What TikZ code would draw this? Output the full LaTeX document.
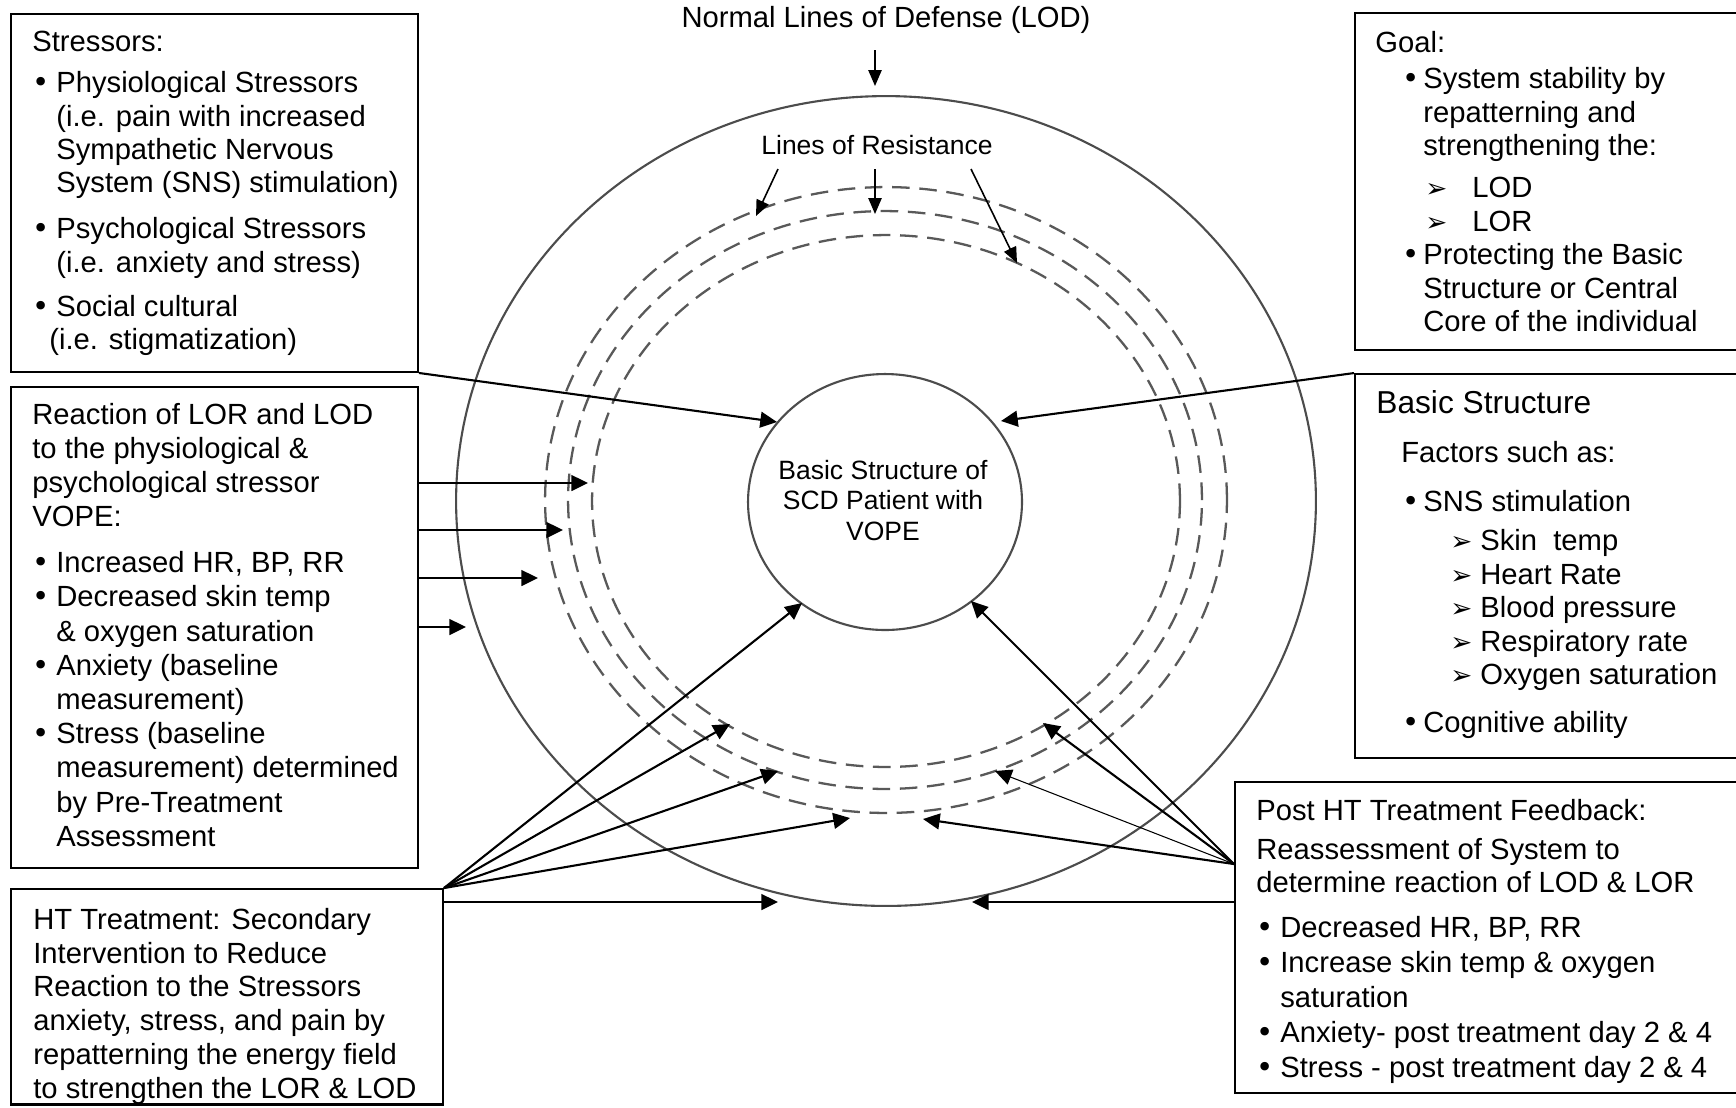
\documentclass[tikz,border=0pt]{standalone}
\usepackage{fontspec}
\setmainfont{Liberation Sans}
\newfontfamily\dejavufont{DejaVu Sans}
\usetikzlibrary{arrows.meta,fit,shapes.geometric}
\newdimen\PX \PX=0.02cm
\newcommand\bigbul{{\dejavufont\textbullet}}
\newcommand\bulx{\makebox[24\PX][l]{\bigbul}}
\newcommand\arrbul[1]{\makebox[#1][l]{\dejavufont\fontsize{15}{15}\selectfont ➢}}
\begin{document}
\begin{tikzpicture}[x=0.02cm,y=-0.02cm,
  box/.style={draw,fill=white,line width=1.1pt,inner sep=0pt},
  txt/.style={anchor=base west,inner sep=0pt},
  ring/.style={ellipse,draw=black!70,line width=1.2pt,inner sep=0pt},
  dring/.style={ellipse,draw=black!65,line width=1.3pt,inner sep=0pt,dash pattern=on 10pt off 5.5pt},
  con/.style={line width=1.2pt,-{Triangle[length=9.5pt,width=9pt]}},
  thincon/.style={line width=0.6pt,-{Triangle[length=9.5pt,width=9pt]}},
  lcon/.style={line width=0.9pt,-{Triangle[length=9pt,width=7.5pt]}}]
\useasboundingbox (0,0) rectangle (1736,1107);
\fill[white] (0,0) rectangle (1736,1107);
\clip (0,0) rectangle (1736,1107);

% ---- rings ----
\node[ring,minimum width=17.2cm,minimum height=16.2cm] (lod) at (886,501) {};
\node[dring,minimum width=13.64cm,minimum height=12.52cm] (lorA) at (886,500) {};
\node[dring,minimum width=12.68cm,minimum height=11.56cm] (lorB) at (885,500) {};
\node[dring,minimum width=11.76cm,minimum height=10.64cm] (lorC) at (886,501) {};
\node[ring,minimum width=5.48cm,minimum height=5.12cm] (core) at (885,502) {};
\node[anchor=base,inner sep=0pt,font=\fontsize{15.08}{17.36}\selectfont] (coreT) at (883,479)
  {\parbox[t]{260\PX}{\centering Basic Structure of\\SCD Patient with\\VOPE}};

% ---- top labels ----
\node[anchor=base,inner sep=0pt,font=\fontsize{16.62}{19}\selectfont] (lodlab) at (886,27) {Normal Lines of Defense (LOD)};
\node[anchor=base,inner sep=0pt,font=\fontsize{15.08}{17}\selectfont] (lorlab) at (877,154) {Lines of Resistance};

% ---- boxes ----
\node[box,fit={(11,14) (418,372)}] (stress) {};
\node[box,fit={(1355,13) (1745,350)}] (goal) {};
\node[box,fit={(1355,374) (1745,758)}] (basic) {};
\node[box,fit={(11,387) (418,868)}] (react) {};
\node[box,fit={(1235,782) (1745,1093)}] (post) {};
\node[box,fit={(11,889) (443,1104)}] (ht) {};

% ---- box texts ----
\node[txt,font=\fontsize{16.62}{19.0}\selectfont] (stressT) at (32,51.7) {\parbox[t]{385\PX}{\raggedright
Stressors:\\[7.6\PX]
\bulx Physiological Stressors\\
\hspace*{24\PX}(i.e. pain with increased\\
\hspace*{24\PX}Sympathetic Nervous\\
\hspace*{24\PX}System (SNS) stimulation)\\[12.6\PX]
\bulx Psychological Stressors\\
\hspace*{24\PX}(i.e. anxiety and stress)\\[10.6\PX]
\bulx Social cultural\\
\hspace*{17\PX}(i.e. stigmatization)}};

\node[txt,font=\fontsize{16.62}{19.07}\selectfont] (goalT) at (1375,52) {\parbox[t]{355\PX}{\raggedright
Goal:\\[3\PX]
\hspace*{27\PX}\makebox[21\PX][l]{\bigbul}System stability by\\
\hspace*{48\PX}repatterning and\\
\hspace*{48\PX}strengthening the:\\[8.5\PX]
\hspace*{50\PX}\arrbul{47\PX}LOD\\
\hspace*{50\PX}\arrbul{47\PX}LOR\\
\hspace*{27\PX}\makebox[21\PX][l]{\bigbul}Protecting the Basic\\
\hspace*{48\PX}Structure or Central\\
\hspace*{48\PX}Core of the individual}};

\node[txt,font=\fontsize{16.62}{19.07}\selectfont] (basicT) at (1376,413) {\parbox[t]{355\PX}{\raggedright
{\fontsize{18.04}{20}\selectfont Basic Structure}\\[16.2\PX]
\hspace*{25\PX}Factors such as:\\[14.8\PX]
\hspace*{26\PX}\makebox[21\PX][l]{\bigbul}SNS stimulation\\[6.2\PX]
\hspace*{74\PX}\arrbul{30\PX}Skin~~temp\\
\hspace*{74\PX}\arrbul{30\PX}Heart Rate\\
\hspace*{74\PX}\arrbul{30\PX}Blood pressure\\
\hspace*{74\PX}\arrbul{30\PX}Respiratory rate\\
\hspace*{74\PX}\arrbul{30\PX}Oxygen saturation\\[14.5\PX]
\hspace*{26\PX}\makebox[21\PX][l]{\bigbul}Cognitive ability}};

\node[txt,font=\fontsize{16.62}{19.46}\selectfont] (reactT) at (32,424) {\parbox[t]{385\PX}{\raggedright
Reaction of LOR and LOD\\
to the physiological \&\\
psychological stressor\\
VOPE:\\[12\PX]
\bulx Increased HR, BP, RR\\
\bulx Decreased skin temp\\
\hspace*{24\PX}\& oxygen saturation\\
\bulx Anxiety (baseline\\
\hspace*{24\PX}measurement)\\
\bulx Stress (baseline\\
\hspace*{24\PX}measurement) determined\\
\hspace*{24\PX}by Pre-Treatment\\
\hspace*{24\PX}Assessment}};

\begin{scope}
\clip (11,889) rectangle (443,1104);
\node[txt,font=\fontsize{16.62}{19.18}\selectfont] (htT) at (33,929.5) {\parbox[t]{405\PX}{\raggedright
HT Treatment: Secondary\\
Intervention to Reduce\\
Reaction to the Stressors\\
anxiety, stress, and pain by\\
repatterning the energy field\\
to strengthen the LOR \& LOD}};
\end{scope}
\draw[line width=1.1pt] (ht.south west) -- (ht.south east);

\node[txt,font=\fontsize{16.62}{19.92}\selectfont] (postT) at (1256,820) {\parbox[t]{470\PX}{\raggedright
Post HT Treatment Feedback:\\[4.5\PX]
Reassessment of System to\\[-2.5\PX]
determine reaction of LOD \& LOR\\[10\PX]
\bulx Decreased HR, BP, RR\\
\bulx Increase skin temp \& oxygen\\
\hspace*{24\PX}saturation\\
\bulx Anxiety- post treatment day 2 \& 4\\
\bulx Stress - post treatment day 2 \& 4}};

% ---- connector end points ----
\coordinate (lods) at (875,50);   \coordinate (lodt) at (875,86);
\coordinate (ls1) at (778,169);   \coordinate (lt1) at (756,216);
\coordinate (ls2) at (875,169);   \coordinate (lt2) at (875,214);
\coordinate (ls3) at (971,169);   \coordinate (lt3) at (1017,263);
\coordinate (s1) at (777,422);
\coordinate (b1) at (1001,421);
\coordinate (r1) at (588,483); \coordinate (r2) at (563,530);
\coordinate (r3) at (538,578); \coordinate (r4) at (466,627);
\coordinate (h1) at (802,603); \coordinate (h2) at (730,724);
\coordinate (h3) at (778,771); \coordinate (h4) at (850,818);
\coordinate (h5) at (778,902);
\path (post.north west) ++(0,83) coordinate (p0);
\coordinate (q1) at (971,601); \coordinate (q2) at (1043,723);
\coordinate (q3) at (995,771); \coordinate (q4) at (923,819);
\coordinate (q5) at (972,902);

% ---- connectors ----
\draw[lcon] (lods) -- (lodt);
\draw[lcon] (ls1) -- (lt1);
\draw[lcon] (ls2) -- (lt2);
\draw[lcon] (ls3) -- (lt3);
\draw[con] (stress.south east) -- (s1);
\draw[con] (basic.north west) -- (b1);
\foreach \t in {r1,r2,r3,r4} \draw[con] (react.east |- \t) -- (\t);
\foreach \t in {h1,h2,h3,h4} \draw[con] (ht.north east) -- (\t);
\draw[con] (ht.east |- h5) -- (h5);
\foreach \t in {q1,q2,q4} \draw[con] (p0) -- (\t);
\draw[thincon] (p0) -- (q3);
\draw[con] (post.west |- q5) -- (q5);
\end{tikzpicture}
\end{document}
